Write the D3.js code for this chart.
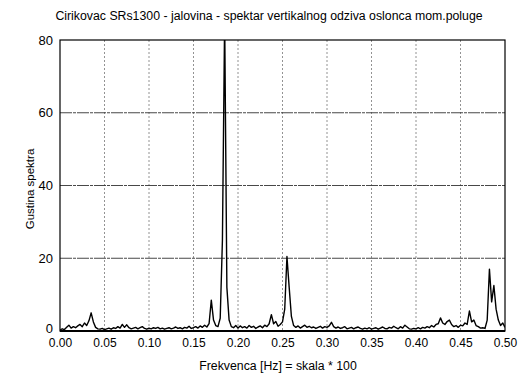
<!DOCTYPE html>
<meta charset="utf-8">
<style>
	body { margin: 0; background: #fff; }
	svg { font-family: "Liberation Sans", Arial, sans-serif; }
</style>
<body></body>
<script src="https://d3js.org/d3.v7.min.js"></script>
<script>

	// spectrum sampled every 0.0025 Hz, from 0.00 to 0.50
	var step = 0.0025;
	var density = [
		0.3, 0.6, 0.4, 1.0, 1.6, 0.8, 1.2, 0.9, 1.4, 1.8, 1.2, 2.2, 1.5, 2.8, 5.0, 2.5, 1.0, 0.6, 0.5, 0.7, 0.4,
		0.6, 0.8, 0.5, 0.9, 0.7, 1.2, 0.8, 1.8, 1.0, 1.7, 0.9, 0.6, 0.8, 1.0, 0.6, 0.9, 1.2, 0.7, 0.5, 0.8,
		0.6, 0.9, 0.7, 1.0, 0.6, 0.8, 0.5, 0.7, 0.9, 0.6, 0.8, 1.1, 0.7, 0.9, 0.6, 1.0, 0.8, 1.3, 0.7, 0.9,
		1.2, 0.8, 1.4, 1.0, 1.6, 1.1, 2.0, 8.5, 3.0, 1.5, 1.2, 3.5, 25, 86, 12, 3.0, 1.2, 0.9, 1.5, 0.8,
		1.4, 0.9, 1.2, 0.8, 1.5, 1.0, 1.3, 0.7, 1.1, 1.4, 0.9, 1.6, 1.2, 2.0, 4.5, 2.0, 2.6, 1.3, 1.8, 2.5,
		6.0, 20.5, 12, 4.0, 1.5, 1.0, 1.4, 0.8, 1.2, 1.6, 1.0, 1.3, 0.9, 1.1, 0.7, 1.0, 1.3, 0.8, 1.2, 1.0,
		1.4, 2.4, 1.2, 0.8, 1.1, 0.7, 0.9, 1.2, 0.6, 0.8, 1.0, 0.6, 0.9, 1.1, 0.7, 0.5, 0.8, 0.6, 0.9, 0.5,
		0.7, 0.9, 0.5, 0.8, 1.1, 0.7, 0.6, 1.0, 0.8, 1.3, 0.9, 0.6, 1.2, 0.8, 1.6, 1.1, 0.6, 0.5, 0.7, 0.6,
		0.9, 0.6, 1.0, 0.8, 1.2, 0.9, 1.5, 1.1, 1.8, 2.0, 3.6, 2.2, 1.8, 2.6, 3.0, 1.8, 1.2, 1.5, 1.0, 1.6,
		1.4, 2.2, 1.8, 5.5, 2.5, 3.0, 1.5, 1.2, 0.8, 0.9, 0.7, 3.0, 17, 8.0, 12.5, 6.0, 3.0, 1.5, 2.2, 1.0
	];
	var xTicks = [0, 0.05, 0.10, 0.15, 0.20, 0.25, 0.30, 0.35, 0.40, 0.45, 0.50];
	var yTicks = [0, 20, 40, 60, 80];

	var margin = {top: 40, right: 21, bottom: 44, left: 60};
	var width = 526 - margin.left - margin.right;
	var height = 375 - margin.top - margin.bottom;

	var svg = d3.select("body").append("svg")
		.attr("width", 526)
		.attr("height", 375);

	svg.append("text")
		.attr("x", 269)
		.attr("y", 20)
		.attr("text-anchor", "middle")
		.attr("font-size", "12.3px")
		.text("Cirikovac SRs1300 - jalovina - spektar vertikalnog odziva oslonca mom.poluge");

	var g = svg.append("g")
		.attr("transform", "translate(" + margin.left + "," + margin.top + ")");

	var x = d3.scaleLinear().domain([0, 0.5]).range([0, width]);
	var y = d3.scaleLinear().domain([0, 80]).range([height, 0]);

	// grid
	g.selectAll(".vgrid")
		.data(xTicks.slice(1, -1))
		.enter().append("line")
		.attr("x1", d => x(d)).attr("x2", d => x(d))
		.attr("y1", 0).attr("y2", height)
		.attr("stroke", "#777")
		.attr("stroke-width", 0.8)
		.attr("stroke-dasharray", "2,2");

	g.selectAll(".hgrid")
		.data(yTicks.slice(1, -1))
		.enter().append("line")
		.attr("x1", 0).attr("x2", width)
		.attr("y1", d => y(d)).attr("y2", d => y(d))
		.attr("stroke", "#333")
		.attr("stroke-width", 0.9)
		.attr("stroke-dasharray", "12,1,3,1");

	// clip for the peak that goes over 80
	g.append("clipPath").attr("id", "clip")
		.append("rect").attr("width", width).attr("height", height);

	var line = d3.line()
		.x((d, i) => x(i * step))
		.y(d => y(d));

	g.append("path")
		.datum(density)
		.attr("clip-path", "url(#clip)")
		.attr("fill", "none")
		.attr("stroke", "#000")
		.attr("stroke-width", 1.4)
		.attr("stroke-linejoin", "round")
		.attr("d", line);

	// frame
	g.append("rect")
		.attr("width", width).attr("height", height)
		.attr("fill", "none")
		.attr("stroke", "#000")
		.attr("stroke-width", 1.2);
	g.append("line")
		.attr("x1", 0).attr("x2", width)
		.attr("y1", height).attr("y2", height)
		.attr("stroke", "#000").attr("stroke-width", 2);

	// axes
	var xAxis = g.append("g")
		.attr("transform", "translate(0," + height + ")")
		.call(d3.axisBottom(x).tickValues(xTicks).tickFormat(d3.format(".2f")).tickSize(0).tickPadding(7));
	var yAxis = g.append("g")
		.call(d3.axisLeft(y).tickValues(yTicks).tickSize(0).tickPadding(7));

	xAxis.select(".domain").remove();
	yAxis.select(".domain").remove();
	xAxis.selectAll("text")
		.attr("font-family", "Liberation Sans, Arial, sans-serif")
		.attr("font-size", "12px")
		.attr("fill", "#000");
	yAxis.selectAll("text")
		.attr("font-family", "Liberation Sans, Arial, sans-serif")
		.attr("font-size", "13px")
		.attr("fill", "#000");
	// "0" sits a little higher so it clears "0.00"
	yAxis.selectAll("text").filter(d => d === 0).attr("dy", "0.1em");

	svg.append("text")
		.attr("x", 278)
		.attr("y", 370)
		.attr("text-anchor", "middle")
		.attr("font-size", "12.3px")
		.text("Frekvenca [Hz] = skala * 100");

	svg.append("text")
		.attr("transform", "translate(34,189) rotate(-90)")
		.attr("text-anchor", "middle")
		.attr("font-size", "11.5px")
		.text("Gustina spektra");

</script>
